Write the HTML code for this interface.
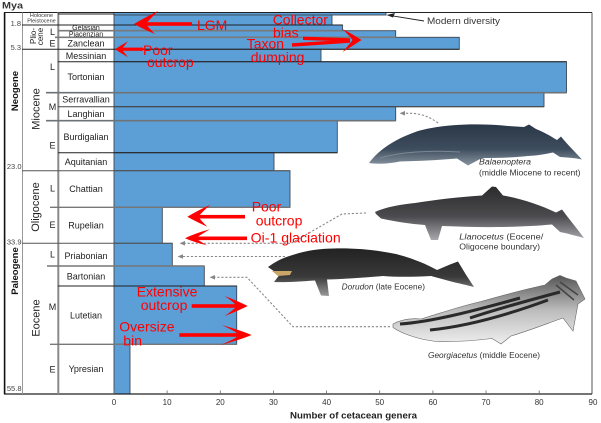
<!DOCTYPE html>
<html><head><meta charset="utf-8"><style>
html,body{margin:0;padding:0;background:#fff;}
svg{display:block;}
text{font-family:"Liberation Sans",Arial,sans-serif;}
</style></head><body>
<svg width="601" height="423" viewBox="0 0 601 423" xmlns="http://www.w3.org/2000/svg">
<defs>
<linearGradient id="gBal" x1="0" y1="0" x2="0" y2="1">
<stop offset="0" stop-color="#2a3746"/><stop offset="0.6" stop-color="#3e4d5e"/><stop offset="1" stop-color="#8894a0"/></linearGradient>
<linearGradient id="gLla" x1="0" y1="0" x2="0" y2="1">
<stop offset="0" stop-color="#2c2c2e"/><stop offset="0.55" stop-color="#4a4a4e"/><stop offset="1" stop-color="#a9a9ad"/></linearGradient>
<linearGradient id="gDor" x1="0" y1="0" x2="0" y2="1">
<stop offset="0" stop-color="#222"/><stop offset="0.6" stop-color="#3a3a3a"/><stop offset="1" stop-color="#999"/></linearGradient>
<linearGradient id="gGeo" x1="0" y1="0" x2="0" y2="1">
<stop offset="0" stop-color="#555"/><stop offset="0.5" stop-color="#bbb"/><stop offset="1" stop-color="#eee"/></linearGradient>
</defs>
<rect width="601" height="423" fill="#fff"/>

<!-- bars -->
<g fill="#5c9fd6" stroke="#3d4753" stroke-width="0.9">
<rect x="114" y="12.5" width="272" height="2.5"/>
<rect x="114" y="15" width="218" height="10"/>
<rect x="114" y="25" width="228.5" height="5.7"/>
<rect x="114" y="30.7" width="281.7" height="6.6"/>
<rect x="114" y="37.3" width="345.3" height="12"/>
<rect x="114" y="49.3" width="207" height="12.4"/>
<rect x="114" y="61.7" width="452.5" height="31"/>
<rect x="114" y="92.7" width="430" height="14"/>
<rect x="114" y="106.7" width="281.7" height="14"/>
<rect x="114" y="120.7" width="223.3" height="32"/>
<rect x="114" y="152.7" width="160" height="18"/>
<rect x="114" y="170.7" width="176" height="36.6"/>
<rect x="114" y="207.3" width="48.3" height="36"/>
<rect x="114" y="243.3" width="58.3" height="22.7"/>
<rect x="114" y="266" width="90.3" height="20"/>
<rect x="114" y="286" width="122.7" height="58.3"/>
<rect x="114" y="344.3" width="16" height="49.7"/>
</g>

<!-- frame -->
<line x1="4" y1="12.5" x2="592" y2="12.5" stroke="#222" stroke-width="1"/>
<line x1="592" y1="12.5" x2="592" y2="394" stroke="#555" stroke-width="1"/>
<line x1="4" y1="394" x2="592" y2="394" stroke="#222" stroke-width="1.2"/>
<line x1="4.6" y1="12.5" x2="4.6" y2="394" stroke="#111" stroke-width="1.6"/>
<line x1="22.5" y1="12.5" x2="22.5" y2="394" stroke="#999" stroke-width="1"/>
<line x1="58.3" y1="12.5" x2="58.3" y2="394" stroke="#8a8a8a" stroke-width="2"/>

<!-- boundary lines -->
<g stroke-width="1">
<line x1="58" y1="14" x2="114" y2="14" stroke="#222"/>
<line x1="22" y1="25" x2="342.5" y2="25" stroke="#222"/>
<line x1="58" y1="30.7" x2="342.5" y2="30.7" stroke="#7a7a7a" stroke-width="1.6"/>
<line x1="55" y1="37.3" x2="395.7" y2="37.3" stroke="#7a7a7a" stroke-width="1.6"/>
<line x1="22" y1="49.3" x2="459.3" y2="49.3" stroke="#222"/>
<line x1="58" y1="61.7" x2="566.5" y2="61.7" stroke="#222"/>
<line x1="46" y1="92.7" x2="566.5" y2="92.7" stroke="#6e7378" stroke-width="1.6"/>
<line x1="58" y1="106.7" x2="544" y2="106.7" stroke="#444"/>
<line x1="46" y1="120.7" x2="395.7" y2="120.7" stroke="#6e7378" stroke-width="1.6"/>
<line x1="58" y1="152.7" x2="337.3" y2="152.7" stroke="#222"/>
<line x1="22" y1="170.7" x2="290" y2="170.7" stroke="#555"/>
<line x1="50" y1="207.3" x2="290" y2="207.3" stroke="#777" stroke-width="1.4"/>
<line x1="22" y1="243.3" x2="172.3" y2="243.3" stroke="#555"/>
<line x1="47" y1="266" x2="204.3" y2="266" stroke="#777" stroke-width="1.4"/>
<line x1="58" y1="286" x2="236.7" y2="286" stroke="#222"/>
<line x1="50" y1="344.3" x2="236.7" y2="344.3" stroke="#777" stroke-width="1.4"/>
</g>

<!-- ticks -->
<g stroke="#666" stroke-width="0.8">
<line x1="114" y1="390.5" x2="114" y2="394"/><line x1="167.1" y1="390.5" x2="167.1" y2="394"/>
<line x1="220.3" y1="390.5" x2="220.3" y2="394"/><line x1="273.4" y1="390.5" x2="273.4" y2="394"/>
<line x1="326.6" y1="390.5" x2="326.6" y2="394"/><line x1="379.7" y1="390.5" x2="379.7" y2="394"/>
<line x1="432.9" y1="390.5" x2="432.9" y2="394"/><line x1="486" y1="390.5" x2="486" y2="394"/>
<line x1="539.2" y1="390.5" x2="539.2" y2="394"/>
</g>
<g font-size="8" fill="#333" text-anchor="middle">
<text x="114" y="405">0</text><text x="167.1" y="405">10</text><text x="220.3" y="405">20</text>
<text x="273.4" y="405">30</text><text x="326.6" y="405">40</text><text x="379.7" y="405">50</text>
<text x="432.9" y="405">60</text><text x="486" y="405">70</text><text x="539.2" y="405">80</text>
<text x="593" y="405">90</text>
</g>
<text x="290" y="418.5" font-size="9" font-weight="bold" fill="#222" textLength="127" lengthAdjust="spacingAndGlyphs">Number of cetacean genera</text>

<!-- left column texts -->
<text x="2" y="8.5" font-size="9.5" font-weight="bold" fill="#333" textLength="21" lengthAdjust="spacingAndGlyphs">Mya</text>
<g font-size="7.5" fill="#444" text-anchor="end">
<text x="21" y="26">1.8</text><text x="21" y="50">5.3</text>
<text x="21.5" y="169">23.0</text><text x="21.5" y="244.5">33.9</text><text x="21.5" y="391">55.8</text>
</g>
<g font-size="5.5" fill="#333" text-anchor="middle">
<text x="41.5" y="17">Holocene</text><text x="41.5" y="22.3">Pleistocene</text>
</g>
<text transform="translate(18,91) rotate(-90)" font-size="9.5" font-weight="bold" fill="#111" text-anchor="middle">Neogene</text>
<text transform="translate(18,271) rotate(-90)" font-size="9.5" font-weight="bold" fill="#111" text-anchor="middle">Paleogene</text>
<g font-size="11" fill="#222" text-anchor="middle">
<text transform="translate(39.5,109) rotate(-90)">Miocene</text>
<text transform="translate(39,207) rotate(-90)">Oligocene</text>
<text transform="translate(39.5,318) rotate(-90)">Eocene</text>
</g>
<g font-size="8" fill="#222" text-anchor="middle">
<text transform="translate(36,36) rotate(-90)">Plio-</text>
<text transform="translate(42.8,36.5) rotate(-90)">cene</text>
</g>
<g font-size="9" fill="#222" text-anchor="middle">
<text x="52.5" y="35">L</text><text x="52.5" y="46.5">E</text>
<text x="52.5" y="70">L</text><text x="52.5" y="110">M</text><text x="52.5" y="148.5">E</text>
<text x="52.5" y="191.5">L</text><text x="52.5" y="228">E</text>
<text x="52.5" y="257.5">L</text><text x="52.5" y="310">M</text><text x="52.5" y="372.5">E</text>
</g>
<g font-size="7" fill="#222" text-anchor="middle">
<text x="86" y="30">Gelasian</text><text x="86" y="36.5">Piacenzian</text>
</g>
<g font-size="9" fill="#222" text-anchor="middle">
<text x="86" y="46.3">Zanclean</text>
<text x="86" y="59">Messinian</text>
<text x="86" y="80">Tortonian</text>
<text x="86" y="102.5">Serravallian</text>
<text x="86" y="117">Langhian</text>
<text x="86" y="140">Burdigalian</text>
<text x="86" y="165">Aquitanian</text>
<text x="86" y="192">Chattian</text>
<text x="86" y="228.5">Rupelian</text>
<text x="86" y="259">Priabonian</text>
<text x="86" y="279.5">Bartonian</text>
<text x="86" y="318.3">Lutetian</text>
<text x="86" y="372">Ypresian</text>
</g>

<!-- modern diversity -->
<line x1="424" y1="21" x2="392" y2="15.8" stroke="#222" stroke-width="0.9"/>
<path d="M386.5,15 L395,13 L393,17.5 Z" fill="#222"/>
<text x="427" y="24" font-size="9" fill="#333" textLength="73" lengthAdjust="spacingAndGlyphs">Modern diversity</text>

<!-- whales -->
<path d="M369,163 C378,151 392,140 418,131 C443,124 478,123 508,126 L524,127 L529,124.5 L536,129 C546,133 552,137 557,140 L561,136.5 C567,144 575,152 582,159.5 C575,158 567,157.5 560,157 L553,152.5 C546,154 538,155.5 528,156 C514,157.5 500,158 482,158 L468,165.5 L457,158.5 C440,160 420,161 400,161.5 C390,163.5 379,164.5 369,163 Z" fill="url(#gBal)"/>
<path d="M380,158 C400,152 430,150 460,152" stroke="#7a8794" stroke-width="1" fill="none"/>
<path d="M375,212 C386,207 400,204.5 415,203 C437,199.5 458,197 482,195.5 L492,186.5 L496,187 L503,195.5 C521,198.5 540,205 556,212.5 L562,209.5 C569,219 577,228.5 584,238 C576,236 568,233.5 560,232 L552,224.5 C535,226 515,227 497,227 C480,227.5 460,226.5 442,226 L438,240 L431,240 L425,225 C410,224 395,221.5 381,218.5 L376,214 Z" fill="url(#gLla)"/>
<path d="M268,267 C275,262 281,258.5 291,255.5 C306,250.5 320,248.5 334,248.5 C356,248 376,250 396,254 C415,259 428,265 437,270 L450,264.5 L458,261.5 C463,270 468,278 474,287 C466,285 460,283.5 453,282 L431,276 C411,277 396,277 383,276 C361,278 341,279 327,279.5 L329,296 L321,295.5 L315,280.5 C300,281.5 286,282.5 274,282 L279,275.5 C276,272 272,270 268,267 Z" fill="url(#gDor)"/>
<path d="M272,271 L292,271 L290,275 L278,276 Z" fill="#c9a56a"/>
<path d="M393,324 C401,319.5 411,318 421,319 C441,313 461,306 481,301.5 C501,296 521,290 545,285 L552,279 L560,275.5 L566,278 L576,281 L585,299 L578,304 L573,331 L563,318 C551,322 531,330 511,336 L501,344 L492,338.5 C476,340.5 456,342 436,341.5 C416,339 401,333 393,327.5 Z" fill="url(#gGeo)" stroke="#666" stroke-width="0.6"/>
<path d="M400,324 C430,322 470,312 520,298 M430,330 C470,326 510,314 548,300 M470,318 C500,308 530,300 560,292" stroke="#2a2a2a" stroke-width="3" fill="none"/>
<path d="M556,285 L574,300 M560,282 L578,295" stroke="#444" stroke-width="1.5" fill="none"/>

<!-- captions -->
<g font-size="8" fill="#333">
<text x="479" y="164.5" font-style="italic" textLength="52" lengthAdjust="spacingAndGlyphs">Balaenoptera</text>
<text x="479" y="175.5" textLength="101.5" lengthAdjust="spacingAndGlyphs">(middle Miocene to recent)</text>
<text x="459.3" y="239.5" textLength="84" lengthAdjust="spacingAndGlyphs"><tspan font-style="italic">Llanocetus</tspan> (Eocene/</text>
<text x="459.3" y="249.5" textLength="80.7" lengthAdjust="spacingAndGlyphs">Oligocene boundary)</text>
<text x="341.7" y="289.5" textLength="83.3" lengthAdjust="spacingAndGlyphs"><tspan font-style="italic">Dorudon</tspan> (late Eocene)</text>
<text x="428" y="358" textLength="112" lengthAdjust="spacingAndGlyphs"><tspan font-style="italic">Georgiacetus</tspan> (middle Eocene)</text>
</g>

<!-- leader lines -->
<g stroke="#888" stroke-width="1.1" stroke-dasharray="2.2 1.8" fill="none">
<path d="M438,123 Q426,114 412,113.3 L404,113.3"/>
<path d="M366,213 L342,214 L291,243.3 L184,243.3"/>
<path d="M285,256.5 L182,256.5"/>
<path d="M390,326.7 L293,326.7 L247,277.3 L214,277.3"/>
</g>
<g fill="#888">
<path d="M399.5,113.3 L405,111 L405,115.6 Z"/>
<path d="M179.5,243.3 L185,241 L185,245.6 Z"/>
<path d="M177.5,256.5 L183,254.2 L183,258.8 Z"/>
<path d="M209.5,277.3 L215,275 L215,279.6 Z"/>
</g>

<!-- red arrows -->
<g fill="#ff0000" stroke="none">
<!-- LGM -->
<rect x="144" y="22.2" width="48" height="3.6"/>
<path transform="translate(134,24)" d="M0,0 Q10,-6 24,-13 Q14,-3 12,0 Q14,3 21,10 Q9,5 0,0 Z"/>
<!-- poor outcrop top -->
<rect x="121" y="47.6" width="22" height="3.2"/>
<path transform="translate(115,49.3)" d="M0,0 Q6,-4 13,-8 Q8,-2 7,0 Q8,2 13,8 Q6,4 0,0 Z"/>
<!-- collector / taxon -->
<path d="M303,36.6 L350,38.3 L350,41.5 L303,40 Z"/>
<path d="M292,43.2 L350,39.5 L350,42.7 L292,46.8 Z"/>
<path transform="translate(361.5,40) scale(-1,1)" d="M0,0 Q9,-6 19,-11 Q11,-3 9,0 Q11,3 19,12 Q9,6 0,0 Z"/>
<!-- poor outcrop mid -->
<rect x="197" y="214.9" width="48" height="3.6"/>
<path transform="translate(187.3,216.7)" d="M0,0 Q10,-6 23,-12 Q13,-3 11,0 Q13,3 20,10 Q9,5 0,0 Z"/>
<!-- Oi-1 -->
<rect x="195" y="236.5" width="52" height="3.6"/>
<path transform="translate(185,238.3)" d="M0,0 Q10,-5 25,-9 Q13,-2 11,0 Q13,2 22,7 Q9,4 0,0 Z"/>
<!-- extensive outcrop -->
<rect x="191.7" y="304.2" width="46" height="3.6"/>
<path transform="translate(247.7,306) scale(-1,1)" d="M0,0 Q10,-5 23,-10 Q13,-3 11,0 Q13,3 23,10 Q10,5 0,0 Z"/>
<!-- oversize bin -->
<rect x="179.3" y="333.2" width="62" height="3.6"/>
<path transform="translate(251.7,335) scale(-1,1)" d="M0,0 Q12,-5 30,-10 Q15,-3 12,0 Q15,3 31,10 Q12,5 0,0 Z"/>
</g>

<!-- red texts -->
<g font-size="14" fill="#ff0000">
<text x="197" y="30">LGM</text>
<text x="272.7" y="24.5">Collector</text>
<text x="273" y="37.7">bias</text>
<text x="246.7" y="48.3">Taxon</text>
<text x="250.7" y="62">dumping</text>
<text x="143" y="55">Poor</text>
<text x="147" y="67">outcrop</text>
<text x="251.7" y="211.7">Poor</text>
<text x="255.7" y="225.5">outcrop</text>
<text x="250.7" y="242.5" textLength="90" lengthAdjust="spacingAndGlyphs">Oi-1 glaciation</text>
<text x="136.7" y="296.7">Extensive</text>
<text x="140.7" y="310">outcrop</text>
<text x="119.3" y="331.7">Oversize</text>
<text x="123.3" y="345.5">bin</text>
</g>
</svg>
</body></html>
